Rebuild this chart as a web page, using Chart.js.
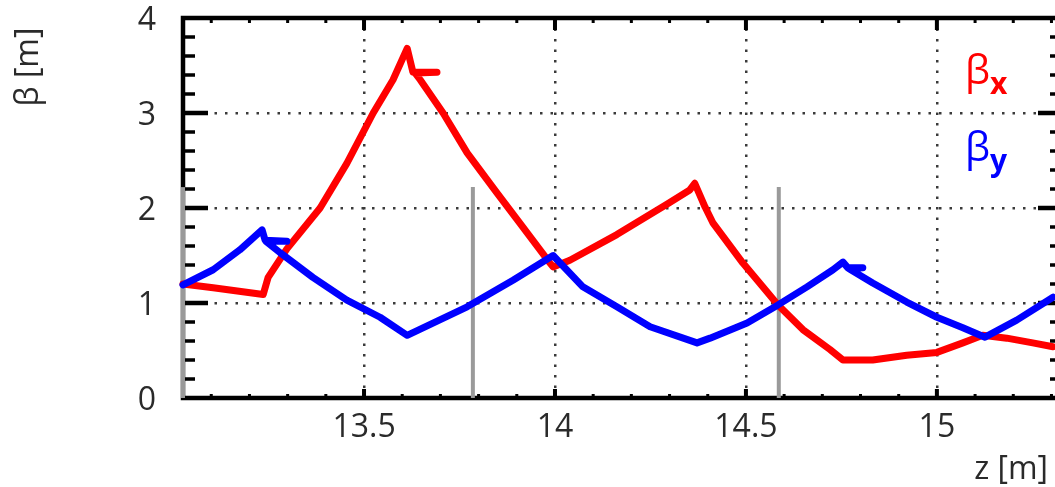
<!DOCTYPE html>
<html>
<head>
<meta charset="utf-8">
<script src="https://cdn.jsdelivr.net/npm/chart.js@4.4.0/dist/chart.umd.min.js"></script>
<style>
    html, body { margin: 0; padding: 0; background: #fff; overflow: hidden; }
    #beta_chart { display: block; }
</style>
</head>
<body>
<canvas id="beta_chart" width="1055" height="487"></canvas>
<script>
// beta x (red)
var beta_x_z = [13.026, 13.105, 13.236, 13.249, 13.298, 13.385, 13.455, 13.524, 13.576, 13.613,
    13.628, 13.691, 13.634, 13.647, 13.707, 13.770, 13.848, 13.908, 13.987, 13.995,
    14.039, 14.162, 14.293, 14.353, 14.366, 14.393, 14.414, 14.492, 14.584, 14.649,
    14.720, 14.754, 14.832, 14.921, 15.000, 15.068, 15.120, 15.183, 15.251, 15.304];
var beta_x_values = [1.20, 1.16, 1.09, 1.27, 1.57, 2.00, 2.47, 3.00, 3.35, 3.68,
    3.43, 3.43, 3.42, 3.35, 3.00, 2.58, 2.16, 1.84, 1.42, 1.38,
    1.45, 1.72, 2.04, 2.19, 2.26, 2.01, 1.84, 1.42, 0.98, 0.72,
    0.51, 0.40, 0.40, 0.45, 0.48, 0.58, 0.66, 0.63, 0.58, 0.54];

// beta y (blue)
var beta_y_z = [13.026, 13.105, 13.175, 13.233, 13.241, 13.298, 13.243, 13.280, 13.366, 13.455,
    13.542, 13.613, 13.770, 13.890, 13.995, 14.073, 14.162, 14.249, 14.372, 14.406,
    14.503, 14.584, 14.660, 14.728, 14.754, 14.767, 14.806, 14.770, 14.832, 14.921,
    15.000, 15.068, 15.126, 15.209, 15.304];
var beta_y_values = [1.19, 1.35, 1.56, 1.77, 1.66, 1.65, 1.65, 1.53, 1.27, 1.03,
    0.85, 0.66, 0.96, 1.24, 1.50, 1.17, 0.96, 0.75, 0.58, 0.63,
    0.79, 0.98, 1.17, 1.35, 1.43, 1.37, 1.37, 1.36, 1.21, 1.01,
    0.85, 0.74, 0.64, 0.82, 1.06];

// grey element edges
var edge_z = [13.026, 13.785, 14.586];
var edge_top = 2.22;

var z_tick_values = [13.5, 14, 14.5, 15];
var beta_tick_values = [0, 1, 2, 3, 4];
var z_range = [13.026, 15.304];
var beta_range = [0, 4];

var text_color = "#2a2a2a";
var font_family = "'Open Sans', 'DejaVu Sans', sans-serif";

function to_points(zs, values){
    var points = [];
    for(var i = 0; i < zs.length; i++) points.push({x: zs[i], y: values[i]});
    return points;
}

var datasets = [];
datasets.push({
    label: "beta_y", data: to_points(beta_y_z, beta_y_values),
    borderColor: "#0000ff", borderWidth: 7, pointRadius: 0, tension: 0,
    borderJoinStyle: "round", borderCapStyle: "round", clip: false, order: 1
});
datasets.push({
    label: "beta_x", data: to_points(beta_x_z, beta_x_values),
    borderColor: "#ff0000", borderWidth: 7, pointRadius: 0, tension: 0,
    borderJoinStyle: "round", borderCapStyle: "round", clip: false, order: 2
});
edge_z.forEach(function(z){
    datasets.push({
        label: "edge", data: [{x: z, y: 0}, {x: z, y: edge_top}],
        borderColor: "#9a9a9a", borderWidth: 4, pointRadius: 0, clip: false, order: 3
    });
});

// frame with inward ticks, drawn under the curves
var frame_plugin = {
    id: "frame_plugin",
    beforeDatasetsDraw: function(chart){
        var ctx = chart.ctx;
        var area = chart.chartArea;
        var xs = chart.scales.x;
        var ys = chart.scales.y;
        ctx.save();
        ctx.strokeStyle = "#000";
        ctx.lineCap = "butt";

        // z ticks every 0.1, bigger every 0.5
        for(var i = 131; i <= 153; i++){
            var px = xs.getPixelForValue(i / 10);
            var major = (i % 5 === 0);
            ctx.lineWidth = major ? 4 : 3;
            ctx.beginPath();
            ctx.moveTo(px, area.bottom); ctx.lineTo(px, area.bottom - (major ? 9 : 4));
            ctx.moveTo(px, area.top); ctx.lineTo(px, area.top + (major ? 12 : 5));
            ctx.stroke();
        }
        // beta ticks every 0.2, bigger every 1
        for(var j = 1; j < 20; j++){
            var py = ys.getPixelForValue(j / 5);
            var big = (j % 5 === 0);
            ctx.lineWidth = big ? 4.5 : 3.5;
            ctx.beginPath();
            ctx.moveTo(area.left, py); ctx.lineTo(area.left + (big ? 25 : 12), py);
            ctx.moveTo(area.right + 2, py); ctx.lineTo(area.right + 2 - (big ? 17 : 5), py);
            ctx.stroke();
        }

        // frame (right side is off the picture)
        ctx.lineWidth = 4.5;
        ctx.beginPath();
        ctx.moveTo(area.right + 4, area.top);
        ctx.lineTo(area.left, area.top);
        ctx.lineTo(area.left, area.bottom);
        ctx.lineTo(area.right + 4, area.bottom);
        ctx.stroke();
        ctx.restore();
    },
    afterDraw: function(chart){
        var ctx = chart.ctx;
        ctx.save();
        ctx.fillStyle = text_color;

        // axis titles
        ctx.font = "32px " + font_family;
        ctx.textAlign = "right";
        ctx.textBaseline = "alphabetic";
        ctx.fillText("z [m]", 1048, 479);

        ctx.translate(29, 67);
        ctx.rotate(-Math.PI / 2);
        ctx.textAlign = "center";
        ctx.textBaseline = "middle";
        ctx.fillText("β [m]", 0, 0);
        ctx.restore();

        // legend
        var legend_items = [
            {sub: "x", color: "#ff0000", base: 84},
            {sub: "y", color: "#0000ff", base: 161}
        ];
        ctx.save();
        ctx.textAlign = "left";
        ctx.textBaseline = "alphabetic";
        legend_items.forEach(function(item){
            ctx.fillStyle = item.color;
            ctx.font = "40px " + font_family;
            ctx.fillText("β", 965, item.base);
            var w = ctx.measureText("β").width;
            ctx.font = "bold 30px " + font_family;
            ctx.fillText(item.sub, 965 + w, item.base + 10);
        });
        ctx.restore();
    }
};

var chart_config = {
    type: "line",
    data: { datasets: datasets },
    options: {
        responsive: false,
        animation: false,
        devicePixelRatio: 1,
        layout: { padding: { top: 18, right: 2, left: 0, bottom: 0 } },
        plugins: { legend: { display: false }, tooltip: { enabled: false } },
        scales: {
            x: {
                type: "linear",
                min: z_range[0], max: z_range[1],
                afterBuildTicks: function(scale){
                    scale.ticks = z_tick_values.map(function(v){ return {value: v}; });
                },
                afterFit: function(scale){
                    scale.height = 89;
                    scale.paddingLeft = 0; scale.paddingRight = 0;
                },
                ticks: {
                    color: text_color, padding: 14, maxRotation: 0,
                    font: { family: font_family, size: 32, lineHeight: 1 },
                    callback: function(v){ return String(v); }
                },
                grid: { color: "#3a3a3a", lineWidth: 2.5, drawTicks: false },
                border: { display: false, dash: [2.5, 8] }
            },
            y: {
                type: "linear",
                min: beta_range[0], max: beta_range[1],
                afterBuildTicks: function(scale){
                    scale.ticks = beta_tick_values.map(function(v){ return {value: v}; });
                },
                afterFit: function(scale){
                    scale.width = 183;
                    // keep the plot top where the picture has it
                    scale.paddingTop = 0; scale.paddingBottom = 0;
                },
                ticks: {
                    color: text_color, padding: 27, labelOffset: 3,
                    font: { family: font_family, size: 32, lineHeight: 1 }
                },
                grid: {
                    color: function(c){
                        // top and bottom coincide with the frame
                        if(c.tick && (c.tick.value === beta_range[0] || c.tick.value === beta_range[1])) return "rgba(0,0,0,0)";
                        return "#3a3a3a";
                    },
                    lineWidth: 2.5, drawTicks: false
                },
                border: { display: false, dash: [2.5, 8] }
            }
        }
    },
    plugins: [frame_plugin]
};

var the_chart = new Chart(document.getElementById("beta_chart").getContext("2d"), chart_config);
</script>
</body>
</html>
